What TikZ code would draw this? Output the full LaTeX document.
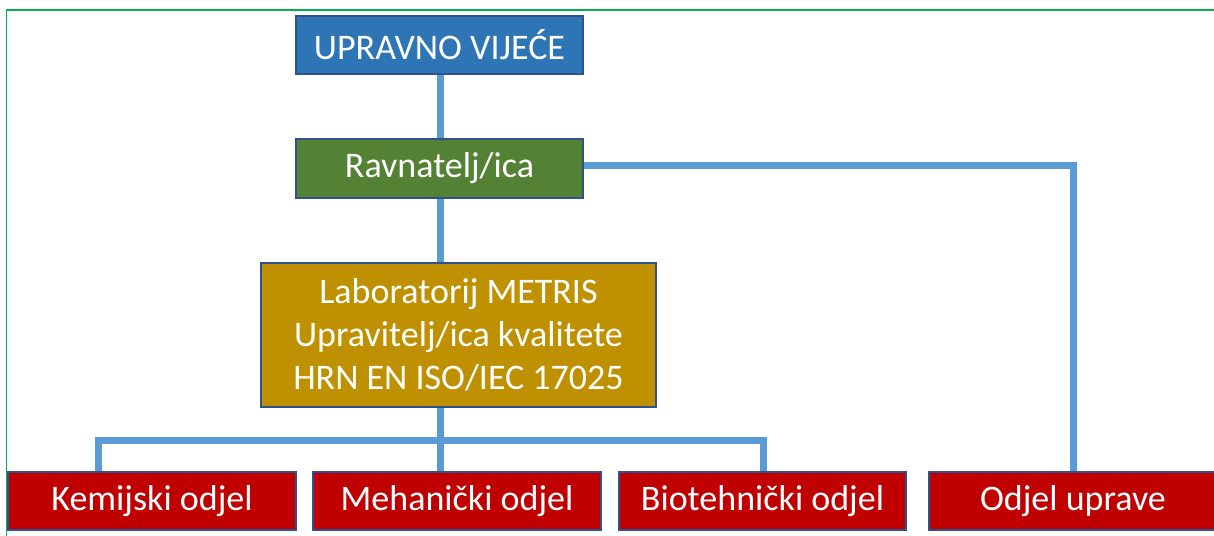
\documentclass[tikz,border=0pt]{standalone}
\usepackage{fontspec}
\setmainfont{Carlito}
\definecolor{bluebox}{HTML}{2E75B6}
\definecolor{greenbox}{HTML}{548235}
\definecolor{goldbox}{HTML}{BF9000}
\definecolor{redbox}{HTML}{C00000}
\definecolor{edge}{HTML}{2F528F}
\definecolor{conn}{HTML}{5B9BD5}
\definecolor{frame}{HTML}{00B050}
\begin{document}
\begin{tikzpicture}[x=1pt,y=-1pt,
  box/.style={draw=edge, line width=1.2pt, text=white, inner sep=0pt, align=center,
    font=\fontsize{36}{43}\selectfont},
  conline/.style={draw=conn, line width=7pt}]
\useasboundingbox (0,0) rectangle (1214,535);
\draw[frame, line width=1.6pt] (6.5,545) -- (6.5,10) -- (1230,10);
\node[box, fill=bluebox, minimum width=287pt, minimum height=58pt] (uv) at (439.5,45) {UPRAVNO VIJEĆE};
\node[box, fill=greenbox, minimum width=287pt, minimum height=59pt] (rav) at (439.5,168.5) {Ravnatelj/ica};
\node[box, fill=goldbox, minimum width=395pt, minimum height=144pt] (lab) at (458.5,335) {Laboratorij METRIS\\Upravitelj/ica kvalitete\\HRN EN ISO/IEC 17025};
\node[box, fill=redbox, minimum width=288pt, minimum height=58pt] (kem) at (152,501) {Kemijski odjel};
\node[box, fill=redbox, minimum width=288pt, minimum height=58pt] (meh) at (457,501) {Mehanički odjel};
\node[box, fill=redbox, minimum width=287pt, minimum height=58pt] (bio) at (762.5,501) {Biotehnički odjel};
\node[box, fill=redbox, minimum width=288pt, minimum height=58pt] (upr) at (1073,501) {Odjel uprave};
\coordinate (busc) at (440,440);
\coordinate (busl) at (98,440);
\coordinate (busr) at (763,440);
\coordinate (rc) at (1073,165);
\draw[conline] (uv.south -| 440,0) -- (rav.north -| 440,0);
\draw[conline] (rav.south -| 440,0) -- (lab.north -| 440,0);
\draw[conline] (lab.south -| 440,0) -- (meh.north -| 440,0);
\draw[conline] (busl |- kem.north) -- (busl) -- (busr) -- (busr |- bio.north);
\draw[conline] (rav.east |- rc) -- (rc) -- (upr.north -| rc);
\end{tikzpicture}
\end{document}
